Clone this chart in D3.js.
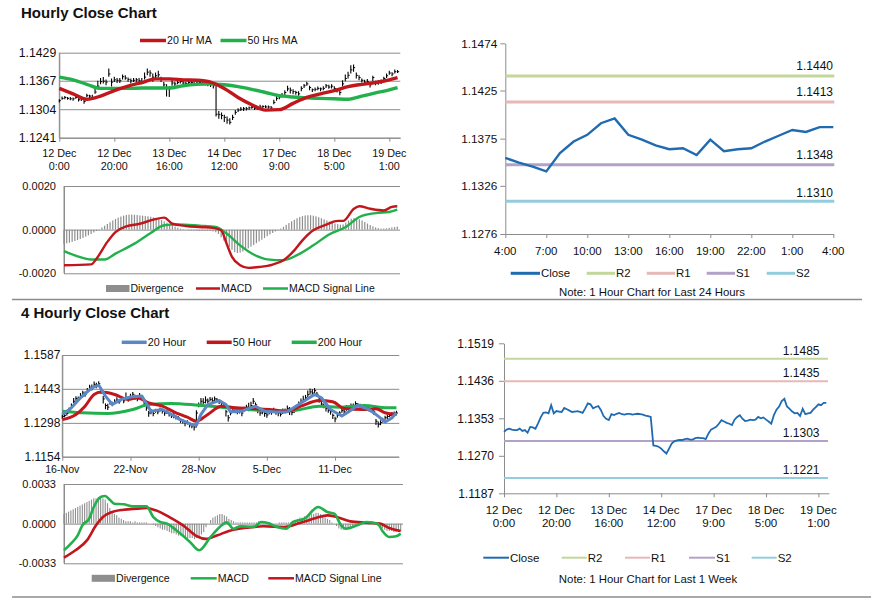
<!DOCTYPE html>
<html>
<head>
<meta charset="utf-8">
<script src="https://cdn.jsdelivr.net/npm/d3@7"></script>
<style>
body { margin: 0; background: #fff; }
svg text { font-family: Arial, "Liberation Sans", sans-serif; fill: #111; }
</style>
</head>
<body>
<svg id="chart" width="873" height="601"></svg>
<script>

// ---------------- DATA ----------------

// Hourly closes, 12 Dec 0:00 .. 19 Dec 4:00 (weekend hours skipped)
const hourlyClose = [
  1.1323,1.1328,1.1330,1.1328,1.1327,1.1327,1.1330,1.1325,1.1327,1.1321,
  1.1334,1.1333,1.1330,1.1342,1.1355,1.1365,1.1366,1.1364,1.1382,1.1364,
  1.1369,1.1368,1.1367,1.1376,1.1373,1.1370,1.1367,1.1368,1.1369,1.1367,
  1.1365,1.1375,1.1386,1.1384,1.1375,1.1378,1.1380,1.1371,1.1358,1.1352,
  1.1349,1.1362,1.1360,1.1363,1.1365,1.1362,1.1361,1.1363,1.1363,1.1361,
  1.1362,1.1363,1.1362,1.1361,1.1359,1.1358,1.1356,1.1293,1.1292,1.1290,
  1.1286,1.1280,1.1275,1.1286,1.1297,1.1302,1.1304,1.1305,1.1305,1.1307,
  1.1308,1.1306,1.1306,1.1309,1.1310,1.1309,1.1309,1.1307,1.1319,1.1328,
  1.1331,1.1334,1.1341,1.1349,1.1346,1.1343,1.1341,1.1338,1.1350,1.1356,
  1.1360,1.1352,1.1347,1.1348,1.1350,1.1349,1.1350,1.1356,1.1353,1.1355,
  1.1350,1.1346,1.1341,1.1360,1.1372,1.1379,1.1391,1.1396,1.1379,1.1374,
  1.1368,1.1364,1.1365,1.1358,1.1374,1.1362,1.1364,1.1365,1.1372,1.1378,
  1.1384,1.1382,1.1387,1.1387
];
// bar high above close / low below close, in pips
const hourlyUpPips = [
  3,4,3,3,4,3,4,3,5,4, 4,3,6,10,12,8,9,6,12,8, 7,5,6,5,6,4,5,5,4,6,
  8,10,8,6,8,7,9,5,6,7, 6,7,5,4,4,5,4,3,4,4, 3,4,3,4,3,4,4,68,8,7,
  6,8,9,6,5,4,5,4,4,3, 4,4,3,5,3,4,3,4,6,7, 5,6,5,7,6,5,4,6,5,4,
  5,4,3,4,4,3,5,4,5,4, 5,4,6,8,9,8,10,7,6,5, 4,5,6,5,4,5,4,5,4,5,
  5,4,5,4
];
const hourlyDownPips = [
  4,3,4,3,3,4,3,4,5,5, 3,4,5,4,5,6,5,7,6,10, 5,6,5,6,4,5,6,4,5,5,
  6,5,7,8,10,9,6,7,8,20, 18,6,5,4,4,4,4,4,3,4, 3,4,3,4,4,5,6,5,9,8,
  10,8,5,6,5,4,4,5,4,4, 3,4,4,3,4,3,4,5,4,5, 5,4,6,5,7,6,5,4,6,5,
  4,6,5,4,4,5,4,5,4,5, 6,5,6,5,6,7,8,9,7,6, 5,6,7,6,8,5,6,5,4,5,
  4,5,4,3
];
const hourlyTickIdx = [0, 20, 40, 60, 80, 100, 120];
const hourlyTickLabels = [
  ["12 Dec","0:00"], ["12 Dec","20:00"], ["13 Dec","16:00"], ["14 Dec","12:00"],
  ["17 Dec","9:00"], ["18 Dec","5:00"], ["19 Dec","1:00"]
];
const hourlyPriceTicks = [1.1241, 1.1304, 1.1367, 1.1429];

// moving averages, read at sampled hours
const hourlyMaIdx = [0,5,10,15,20,25,30,35,40,45,50,55,60,65,70,75,80,85,90,95,100,105,110,115,120,123];
const ma20Hr = [1.1350,1.1338,1.1326,1.1333,1.1345,1.1355,1.1363,1.1371,1.1371,1.1369,1.1368,1.1364,1.1350,
                1.1330,1.1314,1.1302,1.1303,1.1317,1.1330,1.1338,1.1345,1.1354,1.1359,1.1363,1.1369,1.1374];
const ma50Hr = [1.1375,1.1369,1.1359,1.1350,1.1350,1.1350,1.1351,1.1351,1.1351,1.1356,1.1359,1.1360,1.1358,
                1.1354,1.1348,1.1341,1.1334,1.1331,1.1329,1.1328,1.1327,1.1326,1.1333,1.1340,1.1347,1.1352];

// hourly MACD
const hourlyMacdIdx = [0,10,12,16,19,23,28,33,37,40,45,50,55,58,60,62,65,68,72,77,81,85,88,92,97,101,103,107,109,113,118,121,123];
const hourlyMacd = [-0.00163,-0.00159,-0.00133,-0.00056,-0.00011,0.00015,0.00027,0.00046,0.00055,0.00027,0.00017,
                    0.00012,0.00008,-0.00003,-0.00064,-0.00125,-0.00163,-0.00175,-0.00171,-0.00160,-0.00140,-0.00095,
                    -0.00049,-0.00003,0.00024,0.00040,0.00040,0.00096,0.00107,0.00096,0.00088,0.00104,0.00107];
const hourlySignalIdx = [0,5,10,15,19,26,32,37,42,50,56,60,65,70,75,81,86,92,98,104,109,115,120,123];
const hourlySignal = [-0.00098,-0.00122,-0.00137,-0.00137,-0.00110,-0.00064,-0.00015,0.00020,0.00024,0.00018,0.00012,
                      -0.00018,-0.00072,-0.00114,-0.00136,-0.00140,-0.00117,-0.00072,-0.00021,0.00012,0.00058,0.00076,
                      0.00081,0.00092];
// divergence, units of 0.0001
const hourlyDivergence = [
  -6.7,-6.3,-6.0,-5.6,-5.2,-4.8,-4.3,-3.8,-3.2,-2.6,
  -2.0,-1.3,-0.6,0.2,1.0,1.8,2.6,3.4,4.2,4.9,
  5.5,6.0,6.4,6.7,6.9,6.9,6.8,6.7,6.5,6.4,
  6.2,6.1,5.9,5.6,5.3,4.9,4.4,3.8,3.2,2.6,
  2.0,1.4,0.9,0.5,0.2,0.0,-0.2,-0.3,-0.4,-0.4,
  -0.5,-0.5,-0.5,-0.5,-0.6,-0.8,-1.2,-2.0,-3.5,-5.0,
  -6.5,-8.0,-9.2,-10.3,-10.7,-10.5,-10.0,-9.3,-8.6,-7.8,
  -7.0,-6.2,-5.4,-4.6,-3.8,-3.0,-2.2,-1.5,-0.8,-0.2,
  0.5,1.3,2.2,3.0,3.8,4.5,5.2,5.8,6.2,6.5,
  6.6,6.6,6.4,6.1,5.7,5.2,4.7,4.2,3.7,3.2,
  2.8,2.5,2.3,2.4,3.2,4.2,5.0,5.3,5.2,4.8,
  4.2,3.5,2.8,2.1,1.5,1.0,0.7,0.5,0.5,0.6,
  0.8,1.0,1.2,1.4
];
const hourlyMacdTicks = [-0.002, 0, 0.002];

// last 24 hours chart (18 Dec 4:00 .. 19 Dec 4:00)
const dayStart = 99;
const dayTickIdx = [0,3,6,9,12,15,18,21,24];
const dayTickLabels = ["4:00","7:00","10:00","13:00","16:00","19:00","22:00","1:00","4:00"];
const dayPriceTicks = [1.1276, 1.1326, 1.1375, 1.1425, 1.1474];
const levelNames = ["R2", "R1", "S1", "S2"];
const dayLevels = [1.1440, 1.1413, 1.1348, 1.1310];

// last week chart
const weekPriceTicks = [1.1187, 1.1270, 1.1353, 1.1436, 1.1519];
const weekLevels = [1.1485, 1.1435, 1.1303, 1.1221];

// 4 hourly closes
const fourClose = [
  1.1325,1.1330,1.1338,1.1352,1.1370,1.1390,1.1402,1.1398,1.1410,1.1425,
  1.1418,1.1435,1.1450,1.1445,1.1462,1.1455,1.1465,1.1440,1.1400,1.1372,
  1.1365,1.1385,1.1378,1.1390,1.1395,1.1388,1.1400,1.1392,1.1405,1.1398,
  1.1410,1.1420,1.1408,1.1400,1.1415,1.1405,1.1380,1.1362,1.1340,1.1345,
  1.1338,1.1350,1.1345,1.1355,1.1348,1.1340,1.1345,1.1335,1.1328,1.1330,
  1.1322,1.1318,1.1310,1.1305,1.1298,1.1300,1.1290,1.1285,1.1280,1.1340,
  1.1375,1.1390,1.1385,1.1395,1.1390,1.1398,1.1392,1.1400,1.1395,1.1390,
  1.1380,1.1372,1.1345,1.1320,1.1340,1.1352,1.1348,1.1345,1.1350,1.1340,
  1.1355,1.1365,1.1360,1.1372,1.1390,1.1375,1.1355,1.1340,1.1345,1.1338,
  1.1332,1.1345,1.1342,1.1350,1.1345,1.1340,1.1335,1.1345,1.1350,1.1360,
  1.1348,1.1342,1.1350,1.1362,1.1375,1.1390,1.1398,1.1405,1.1418,1.1430,
  1.1425,1.1435,1.1420,1.1400,1.1378,1.1370,1.1360,1.1350,1.1345,1.1330,
  1.1315,1.1330,1.1340,1.1350,1.1345,1.1360,1.1355,1.1368,1.1372,1.1380,
  1.1375,1.1370,1.1365,1.1360,1.1362,1.1355,1.1350,1.1345,1.1305,1.1292,
  1.1300,1.1310,1.1320,1.1325,1.1330,1.1335,1.1338,1.1340
];
const fourUpPips = [
  8,10,9,12,10,14,9,12,15,10, 14,12,10,16,12,14,10,8,12,9, 14,8,10,9,12,8,10,12,22,10,
  12,9,10,14,10,8,12,10,9,12, 10,8,12,9,8,10,9,8,10,9, 8,9,8,10,8,9,10,8,7,12,
  10,14,18,16,12,10,14,10,9,8, 10,8,9,12,10,8,14,22,10,9, 12,10,24,16,14,10,8,9,10,8,
  9,8,10,12,9,8,10,14,9,12, 18,10,12,10,14,12,16,12,18,14, 16,12,10,8,9,10,8,9,10,8,
  9,10,8,12,10,14,10,12,9,10, 8,9,10,8,9,10,8,9,10,12, 9,10,8,9,10,9,8,10
];
const fourDownPips = [
  10,8,9,8,10,8,10,9,8,10, 9,10,8,9,12,10,14,18,20,16, 12,10,9,12,10,9,8,10,9,10,
  9,10,12,10,8,9,14,12,16,10, 12,9,10,9,10,12,9,10,9,12, 10,9,12,10,14,9,12,10,14,62,
  10,12,9,14,10,8,9,10,8,12, 10,14,20,16,10,12,9,10,12,14, 10,9,12,10,12,14,16,12,10,14,
  12,10,9,10,12,14,10,9,12,10, 16,12,10,9,10,12,10,9,10,12, 14,10,12,16,12,10,14,9,12,16,
  14,10,12,9,12,10,9,10,12,9, 10,9,12,10,8,10,9,12,16,14, 12,10,9,10,8,9,10,9
];
const fourTickIdx = [0, 30, 60, 90, 120];
const fourTickLabels = ["16-Nov", "22-Nov", "28-Nov", "5-Dec", "11-Dec"];
const fourPriceTicks = [1.1154, 1.1298, 1.1443, 1.1587];

const ma20HourIdx = [0,4,8,13,16,19,22,26,30,35,39,44,48,52,57,59,61,64,69,72,74,79,85,89,94,99,105,111,114,118,123,126,130,135,138,142,145,147];
const ma20Hour = [1.1334,1.1362,1.1405,1.1447,1.1459,1.1412,1.1376,1.1398,1.1408,1.1412,1.1348,1.1355,1.1334,
                  1.1312,1.1291,1.1288,1.1334,1.1376,1.1393,1.1376,1.1345,1.1348,1.1369,1.1348,1.1344,1.1345,
                  1.1383,1.1419,1.1405,1.1355,1.1327,1.1345,1.1373,1.1355,1.1334,1.1302,1.1319,1.1341];
const ma50HourIdx = [0,6,10,14,17,23,29,33,38,44,50,55,59,64,70,76,83,91,99,105,113,119,124,132,138,142,147];
const ma50Hour = [1.1312,1.1334,1.1369,1.1419,1.1429,1.1419,1.1398,1.1405,1.1383,1.1369,1.1341,1.1322,1.1305,
                  1.1334,1.1369,1.1362,1.1359,1.1355,1.1348,1.1369,1.1393,1.1388,1.1359,1.1355,1.1358,1.1341,1.1334];
const ma200HourIdx = [0,9,20,31,38,48,60,70,82,92,102,113,123,133,143,147];
const ma200Hour = [1.1348,1.1341,1.1338,1.1355,1.1376,1.1381,1.1373,1.1365,1.1355,1.1348,1.1351,1.1369,1.1365,
                   1.1372,1.1362,1.1362];

const fourMacdIdx = [0,3,6,8,11,13,16,18,20,22,26,30,36,39,42,45,49,55,59,64,68,71,74,77,83,86,89,93,97,100,
                     105,111,115,118,121,123,128,132,137,139,142,145,147];
const fourMacd = [-0.00222,-0.00166,-0.00097,-0.00014,0.00042,0.00139,0.00222,0.00230,0.00199,0.00166,
                  0.00161,0.00144,0.00144,0.00055,0.00014,0,-0.00055,-0.00152,-0.00222,-0.00111,
                  -0.00028,0.00011,-0.00042,-0.00022,-0.00028,0.00014,0.00006,-0.00028,-0.00042,0.00014,
                  0.00042,0.00139,0.00097,0.00083,-0.00014,-0.00042,-0.00014,0.00014,0,-0.00061,
                  -0.00111,-0.00105,-0.00083];
const fourSignalIdx = [0,5,10,14,17,21,26,32,36,40,46,52,58,62,67,72,80,87,96,103,110,115,119,125,132,138,142,147];
const fourSignal = [-0.00283,-0.00222,-0.00139,-0.00014,0.00055,0.00097,0.00116,0.00125,0.00130,0.00111,
                    0.00055,-0.00014,-0.00105,-0.00127,-0.00097,-0.00061,-0.00033,-0.00022,-0.00028,0.00006,
                    0.00047,0.00069,0.00055,0.00019,0.00008,0,-0.00036,-0.00061];
const fourDivergence = [
  8,9,10,11,12,13,14,15,16,17,18,
  19,20,21,21,22,22,21,
  20,17,13,10,8,7,5,4,3,
  2,2,2,1,2,1,1,1,1,1,0,0,
  -1,-2,-3,-4,-5,-5,-6,-7,-8,-8,-9,-10,-10,-11,-12,-12,-12,-12,-13,-12,-11,-9,-7,-3,
  0,3,5,6,7,8,8,7,6,4,3,2,1,
  1,1,1,1,1,1,1,1,1,2,2,1,1,1,1,0,0,0,1,1,1,1,1,1,2,
  3,4,5,5,6,6,7,8,8,9,9,8,7,5,4,3,1,0,
  -2,-4,-5,-5,-5,-4,-4,-3,-2,-1,0,
  0,1,1,0,0,0,-1,
  -2,-3,-4,-5,-6,-6,-6,-7,-7,-7,-6
];
const fourMacdTicks = [-0.0033, 0, 0.0033];


// ---------------- DRAWING ----------------

const svg = d3.select("#chart");
const GRID = "#8c8c8c";
const RED = "#c0161c";
const GREEN = "#22b04c";
const BLUE = "#5b88c4";
const CLOSE = "#1f6bb2";
const HIST = "#8e8e8e";
const levelColors = ["#c3d69b", "#e6b9b8", "#b3a2c7", "#93cddd"];
const fmt4 = d => d.toFixed(4);


function leftAxis(y, ticks, x0, x1, opts) {
	// gridlines (or just tick marks) plus the value labels
	const grid = opts.grid;
	const ax = d3.axisLeft(y)
		.tickValues(ticks)
		.tickSize(grid ? -(x1 - x0) : opts.tick)
		.tickSizeOuter(0)
		.tickPadding(opts.pad)
		.tickFormat(fmt4);
	const g = svg.append("g")
		.attr("transform", `translate(${x0},0)`)
		.call(ax);
	g.attr("font-family", null).attr("font-size", null);
	g.select(".domain").attr("stroke", GRID);
	g.selectAll(".tick line").attr("stroke", GRID);
	g.selectAll(".tick text").attr("font-size", opts.size);
	return g;
} // leftAxis


function bottomAxis(x, yPos, tickIdx, labels, opts) {
	const ax = d3.axisBottom(x)
		.tickValues(tickIdx)
		.tickSize(opts.tick)
		.tickSizeOuter(0)
		.tickFormat("");
	const g = svg.append("g")
		.attr("transform", `translate(0,${yPos})`)
		.call(ax);
	g.select(".domain").attr("stroke", GRID);
	g.selectAll(".tick line").attr("stroke", GRID);

	// labels, possibly on two lines
	svg.append("g").selectAll("text")
		.data(tickIdx)
		.join("text")
		.attr("text-anchor", "middle")
		.attr("font-size", opts.size)
		.attr("y", opts.labelY)
		.each(function (d, i) {
			[].concat(labels[i]).forEach((s, k) => {
				d3.select(this).append("tspan")
					.attr("x", x(d))
					.attr("dy", k ? opts.gap : 0)
					.text(s);
			});
		});
} // bottomAxis


function priceBars(x, y, close, up, down) {
	const g = svg.append("g");
	g.selectAll("line.hl")
		.data(close)
		.join("line")
		.attr("class", "hl")
		.attr("x1", (d, i) => x(i)).attr("x2", (d, i) => x(i))
		.attr("y1", (d, i) => y(d + up[i] / 1e4))
		.attr("y2", (d, i) => y(d - down[i] / 1e4))
		.attr("stroke", "#000").attr("stroke-width", 1.1);
	g.selectAll("line.cl")
		.data(close)
		.join("line")
		.attr("class", "cl")
		.attr("x1", (d, i) => x(i)).attr("x2", (d, i) => x(i) + 1.6)
		.attr("y1", d => y(d)).attr("y2", d => y(d))
		.attr("stroke", "#000").attr("stroke-width", 1);
} // priceBars


function sampledLine(x, y, idx, vals, color, width, curve) {
	const line = d3.line()
		.x(d => x(d[0]))
		.y(d => y(d[1]))
		.curve(curve || d3.curveMonotoneX);
	svg.append("path")
		.datum(idx.map((d, i) => [d, vals[i]]))
		.attr("d", line)
		.attr("fill", "none")
		.attr("stroke", color)
		.attr("stroke-width", width)
		.attr("stroke-linejoin", "round");
} // sampledLine


function histogram(x, y, vals, barWidth) {
	svg.append("g").selectAll("rect")
		.data(vals)
		.join("rect")
		.attr("x", (d, i) => x(i) - barWidth / 2)
		.attr("width", barWidth)
		.attr("y", d => y(Math.max(0, d / 1e4)))
		.attr("height", d => Math.abs(y(d / 1e4) - y(0)))
		.attr("fill", HIST);
} // histogram


function legend(items, yMid, size) {
	// items: [x start of swatch, x end of swatch, colour, stroke width (0 = box), label]
	const g = svg.append("g");
	items.forEach(it => {
		if (it[3] === 0) {
			g.append("rect").attr("x", it[0]).attr("y", yMid - 3.5)
				.attr("width", it[1] - it[0]).attr("height", 7).attr("fill", it[2]);
		} else {
			g.append("line").attr("x1", it[0]).attr("x2", it[1])
				.attr("y1", yMid).attr("y2", yMid)
				.attr("stroke", it[2]).attr("stroke-width", it[3]);
		}
		g.append("text").attr("x", it[1] + 1).attr("y", yMid).attr("dy", "0.35em")
			.attr("font-size", size).text(it[4]);
	});
} // legend


function levels(x, y, vals, xEnd, labelX, width, size, lift) {
	vals.forEach((v, i) => {
		svg.append("line")
			.attr("x1", x(0)).attr("x2", xEnd)
			.attr("y1", y(v)).attr("y2", y(v))
			.attr("stroke", levelColors[i]).attr("stroke-width", width);
		svg.append("text")
			.attr("x", labelX).attr("y", y(v) - lift[i])
			.attr("text-anchor", "end").attr("font-size", size)
			.text(fmt4(v));
	});
} // levels


// titles and separators
svg.append("text").attr("x", 21).attr("y", 18).attr("font-size", 15).attr("font-weight", "bold")
	.text("Hourly Close Chart");
svg.append("text").attr("x", 21).attr("y", 318).attr("font-size", 15).attr("font-weight", "bold")
	.text("4 Hourly Close Chart");
svg.append("line").attr("x1", 12).attr("x2", 862).attr("y1", 299.5).attr("y2", 299.5)
	.attr("stroke", GRID).attr("stroke-width", 1.5);
svg.append("line").attr("x1", 12).attr("x2", 871).attr("y1", 597).attr("y2", 597)
	.attr("stroke", GRID).attr("stroke-width", 1.5);


// ---- hourly price with MAs ----
const hx = d3.scaleLinear().domain([0, 124]).range([59.3, 400.3]);
const hy = d3.scaleLinear().domain([1.1241, 1.1429]).range([137.7, 52.7]);
leftAxis(hy, hourlyPriceTicks, 59.3, 400.3, { grid: true, pad: 3, size: 12.3 });
svg.append("line").attr("x1", 59.3).attr("x2", 59.3).attr("y1", 52.7).attr("y2", 137.7).attr("stroke", GRID);
bottomAxis(hx, 137.7, hourlyTickIdx, hourlyTickLabels, { tick: 4, size: 10.8, labelY: 156.5, gap: 13.5 });
priceBars(hx, hy, hourlyClose, hourlyUpPips, hourlyDownPips);
sampledLine(hx, hy, hourlyMaIdx, ma50Hr, GREEN, 3.4);
sampledLine(hx, hy, hourlyMaIdx, ma20Hr, RED, 3.4);
legend([[140, 166, RED, 3.5, "20 Hr MA"], [220.5, 246.5, GREEN, 3.5, "50 Hrs MA"]], 40.5, 10.6);

// ---- hourly MACD ----
const mx = d3.scaleLinear().domain([0, 124]).range([64, 400]);
const my = d3.scaleLinear().domain([-0.002, 0.002]).range([273.3, 186]);
leftAxis(my, hourlyMacdTicks, 64, 400, { grid: true, pad: 8, size: 11 });
svg.append("line").attr("x1", 64).attr("x2", 64).attr("y1", 186).attr("y2", 273.3).attr("stroke", GRID);
histogram(mx, my, hourlyDivergence, 1.2);
sampledLine(mx, my, hourlySignalIdx, hourlySignal, GREEN, 2.4);
sampledLine(mx, my, hourlyMacdIdx, hourlyMacd, RED, 2.4);
legend([[106, 129.5, HIST, 0, "Divergence"], [196, 220, RED, 2.5, "MACD"],
        [263, 288, GREEN, 2.5, "MACD Signal Line"]], 288.5, 10.5);

// ---- last 24 hours ----
const rx = d3.scaleLinear().domain([0, 24]).range([505.3, 833.3]);
const ry = d3.scaleLinear().domain([1.1276, 1.1474]).range([234, 43.3]);
leftAxis(ry, dayPriceTicks, 505.3, 833.3, { grid: false, tick: 5, pad: 3, size: 11.8 });
bottomAxis(rx, 234, dayTickIdx, dayTickLabels, { tick: 4, size: 11.5, labelY: 254.5, gap: 13 });
levels(rx, ry, dayLevels, 834.3, 833, 3, 12, [6, 6, 6, 4]);
svg.append("path")
	.datum(hourlyClose.slice(dayStart))
	.attr("d", d3.line().x((d, i) => rx(i)).y(d => ry(d)))
	.attr("fill", "none").attr("stroke", CLOSE).attr("stroke-width", 2.4);
legend([[510.7, 540, CLOSE, 3, "Close"], [586.7, 615, levelColors[0], 3, levelNames[0]],
        [646.7, 675, levelColors[1], 3, levelNames[1]], [706.7, 735, levelColors[2], 3, levelNames[2]],
        [766.7, 795, levelColors[3], 3, levelNames[3]]], 273.3, 11.4);
svg.append("text").attr("x", 652).attr("y", 292.3).attr("dy", "0.35em").attr("text-anchor", "middle")
	.attr("font-size", 11.4).text("Note: 1 Hour Chart for Last 24 Hours");

// ---- last week ----
const wx = d3.scaleLinear().domain([0, 124]).range([504, 828.9]);
const wy = d3.scaleLinear().domain([1.1187, 1.1519]).range([493.3, 343.3]);
leftAxis(wy, weekPriceTicks, 504, 828.9, { grid: false, tick: 5, pad: 5, size: 12 });
bottomAxis(wx, 493.3, hourlyTickIdx, hourlyTickLabels, { tick: 4, size: 11.6, labelY: 513.5, gap: 13.4 });
levels(wx, wy, weekLevels, 828, 819.5, 2, 12, [4, 4, 4, 4]);
svg.append("path")
	.datum(hourlyClose)
	.attr("d", d3.line().x((d, i) => wx(i)).y(d => wy(d)))
	.attr("fill", "none").attr("stroke", CLOSE).attr("stroke-width", 1.8);
legend([[483.3, 509, CLOSE, 2, "Close"], [561.7, 586.7, levelColors[0], 2, levelNames[0]],
        [625, 650, levelColors[1], 2, levelNames[1]], [689, 715, levelColors[2], 2, levelNames[2]],
        [751.7, 776.7, levelColors[3], 2, levelNames[3]]], 557.7, 11.5);
svg.append("text").attr("x", 648).attr("y", 579.3).attr("dy", "0.35em").attr("text-anchor", "middle")
	.attr("font-size", 11.4).text("Note: 1 Hour Chart for Last 1 Week");

// ---- 4 hourly price with MAs ----
const fx = d3.scaleLinear().domain([0, 148]).range([62.3, 398.7]);
const fy = d3.scaleLinear().domain([1.1154, 1.1587]).range([456.7, 355]);
leftAxis(fy, fourPriceTicks, 62.3, 399.3, { grid: true, pad: 2, size: 12 });
svg.append("line").attr("x1", 62.3).attr("x2", 62.3).attr("y1", 355).attr("y2", 456.7).attr("stroke", GRID);
bottomAxis(fx, 456.7, fourTickIdx, fourTickLabels, { tick: 4, size: 10.6, labelY: 472.5, gap: 0 });
priceBars(fx, fy, fourClose, fourUpPips, fourDownPips);
sampledLine(fx, fy, ma200HourIdx, ma200Hour, GREEN, 3);
sampledLine(fx, fy, ma50HourIdx, ma50Hour, RED, 3);
sampledLine(fx, fy, ma20HourIdx, ma20Hour, BLUE, 3, d3.curveLinear);
legend([[121.7, 146.7, BLUE, 3.5, "20 Hour"], [206.7, 231.7, RED, 3.5, "50 Hour"],
        [291.7, 316.7, GREEN, 3.5, "200 Hour"]], 342.3, 10.8);

// ---- 4 hourly MACD ----
const gx = d3.scaleLinear().domain([0, 148]).range([64, 403]);
const gy = d3.scaleLinear().domain([-0.0033, 0.0033]).range([563.3, 484]);
leftAxis(gy, fourMacdTicks, 64, 403, { grid: true, pad: 8, size: 11 });
svg.append("line").attr("x1", 64).attr("x2", 64).attr("y1", 484).attr("y2", 563.3).attr("stroke", GRID);
histogram(gx, gy, fourDivergence, 1.1);
sampledLine(gx, gy, fourSignalIdx, fourSignal, RED, 2.6);
sampledLine(gx, gy, fourMacdIdx, fourMacd, GREEN, 2.6);
legend([[91.7, 115, HIST, 0, "Divergence"], [190.7, 216.7, GREEN, 2.5, "MACD"],
        [268.3, 294, RED, 2.5, "MACD Signal Line"]], 578.3, 10.6);

</script>
</body>
</html>
